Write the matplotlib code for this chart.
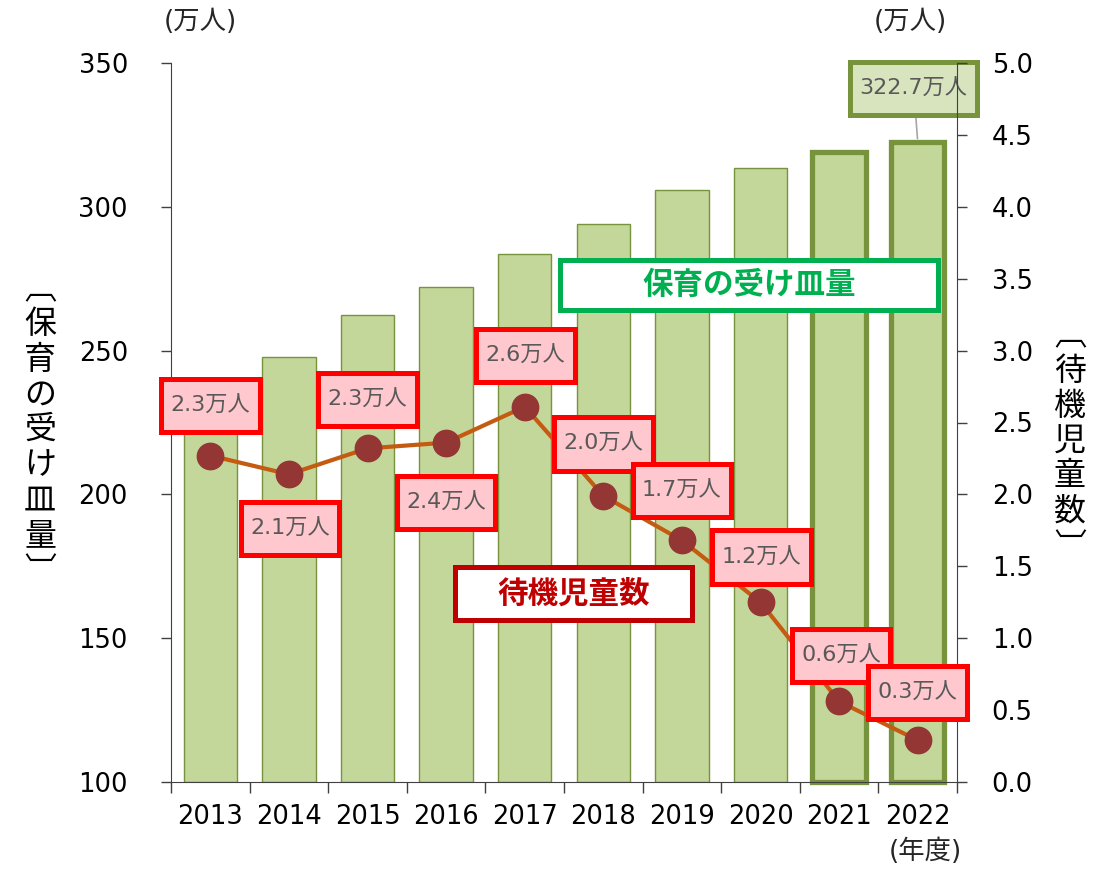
import matplotlib
matplotlib.use("Agg")
import matplotlib.pyplot as plt
import numpy as np
from matplotlib.patches import Rectangle
from matplotlib.path import Path

JP = "Noto Sans CJK JP"
MIXED = ["DejaVu Sans", JP]

# ---- data ----
years = ["2013", "2014", "2015", "2016", "2017", "2018", "2019", "2020", "2021", "2022"]
capacity = [234.0, 247.8, 262.4, 272.1, 283.6, 294.0, 305.8, 313.5, 319.0, 322.7]   # 万人, left axis
waiting = [2.27, 2.14, 2.32, 2.36, 2.61, 1.99, 1.68, 1.25, 0.56, 0.29]                # 万人, right axis
waiting_labels = ["2.3万人", "2.1万人", "2.3万人", "2.4万人", "2.6万人",
                  "2.0万人", "1.7万人", "1.2万人", "0.6万人", "0.3万人"]
capacity_label = "322.7万人"
left_ticks = [100, 150, 200, 250, 300, 350]
right_ticks = [0.0, 0.5, 1.0, 1.5, 2.0, 2.5, 3.0, 3.5, 4.0, 4.5, 5.0]

# label offsets from each marker, in pixels (dx, dy)
label_offsets = [(0, 50), (1, -54), (0, 49), (0, -60), (1, 51),
                 (0, 52), (0, 50), (1, 45), (2, 46), (0, 48)]


def wide_box(padx, pady):
    # box with separate horizontal / vertical padding (fractions of font size)
    def style(x0, y0, width, height, mutation_size):
        px, py = padx * mutation_size, pady * mutation_size
        x0, y0 = x0 - px, y0 - py
        x1, y1 = x0 + width + 2 * px, y0 + height + 2 * py
        return Path([(x0, y0), (x1, y0), (x1, y1), (x0, y1), (x0, y0)], closed=True)
    return style


W, H = 1093, 869
fig = plt.figure(figsize=(W / 100, H / 100), dpi=100)
ax = fig.add_axes([171 / W, 87 / H, (957 - 171) / W, (782 - 63) / H])

x = np.arange(len(years))
base = left_ticks[0]
heights = np.array(capacity) - base
bars = ax.bar(x, heights, bottom=base, width=0.68, color="#C4D79B",
              edgecolor="#77933C", linewidth=1.0, zorder=2)
for b in bars[-2:]:
    b.set_linewidth(3.8)
    b.set_clip_on(False)

ax.set_xlim(-0.5, len(years) - 0.5)
ax.set_ylim(left_ticks[0], left_ticks[-1])
ax.set_yticks(left_ticks)
ax.set_xticks(np.arange(-0.5, len(years), 1.0))
ax.set_xticklabels([])
ax.set_xticks(x, minor=True)
ax.set_xticklabels(years, minor=True)
ax.tick_params(axis="x", which="major", length=8, width=1.0, color="#404040")
ax.tick_params(axis="x", which="minor", length=0, pad=16, labelsize=18.5)
ax.tick_params(axis="y", length=7, width=1.0, color="#404040", pad=24, labelsize=18.5)
for s in ["top", "right"]:
    ax.spines[s].set_visible(False)
for s in ["left", "bottom"]:
    ax.spines[s].set_color("#404040")

ax2 = ax.twinx()
ax2.set_ylim(right_ticks[0], right_ticks[-1])
ax2.set_yticks(right_ticks)
ax2.set_yticklabels([f"{v:.1f}" for v in right_ticks])
ax2.tick_params(axis="y", length=7, width=1.0, color="#404040", pad=18, labelsize=18.5)
for s in ["top", "left", "bottom"]:
    ax2.spines[s].set_visible(False)
ax2.spines["right"].set_color("#404040")

ax2.plot(x, waiting, color="#C55A11", lw=3, zorder=3)
ax2.plot(x, waiting, "o", color="#943634", ms=19, zorder=4)

for xi, yi, txt, (dx, dy) in zip(x, waiting, waiting_labels, label_offsets):
    ax2.annotate(txt, (xi, yi), xytext=(dx, dy), textcoords="offset pixels",
                 ha="center", va="center", fontsize=16, color="#595959",
                 family=MIXED, zorder=6, annotation_clip=False,
                 bbox=dict(boxstyle=wide_box(0.42, 0.75), fc="#FFC7CE", ec="#FF0000", lw=3.6))

# 322.7万人 callout on the last bar
ax.annotate(capacity_label, (x[-1], capacity[-1]), xytext=(-4, 53), textcoords="offset pixels",
            ha="center", va="center", fontsize=16, color="#595959", family=MIXED,
            annotation_clip=False, zorder=6,
            bbox=dict(boxstyle=wide_box(0.42, 0.72), fc="#D7E4BD", ec="#77933C", lw=3.6),
            arrowprops=dict(arrowstyle="-", color="#A6A6A6", lw=1.2, shrinkA=0, shrinkB=2))


def legend_box(x0, y0, x1, y1, text, color):
    fig.add_artist(Rectangle((x0 / W, 1 - y1 / H), (x1 - x0) / W, (y1 - y0) / H,
                             transform=fig.transFigure, fc="white", ec=color, lw=3.6, zorder=10))
    fig.text((x0 + x1) / 2 / W, 1 - (y0 + y1) / 2 / H, text, ha="center", va="center",
             fontsize=22, fontweight="bold", color=color, family=JP, zorder=11)


legend_box(560, 260, 938, 310, "保育の受け皿量", "#00B050")
legend_box(455, 567, 692, 620, "待機児童数", "#C00000")

# axis captions
fig.text(200 / W, 1 - 22 / H, "(万人)", ha="center", va="center", fontsize=19, color="#262626", family=MIXED)
fig.text(910 / W, 1 - 22 / H, "(万人)", ha="center", va="center", fontsize=19, color="#262626", family=MIXED)
fig.text(925 / W, 1 - 852 / H, "(年度)", ha="center", va="center", fontsize=19, color="#262626", family=MIXED)

left_label = ["︹"] + list("保育の受け皿量") + ["︺"]
right_label = ["︹"] + list("待機児童数") + ["︺"]
fig.text(40 / W, 1 - 430 / H, "\n".join(left_label), ha="center", va="center",
         fontsize=23, color="black", family=JP, linespacing=1.13)
fig.text(1070 / W, 1 - 441 / H, "\n".join(right_label), ha="center", va="center",
         fontsize=23, color="black", family=JP, linespacing=1.13)

fig.savefig("out.png", dpi=100)
